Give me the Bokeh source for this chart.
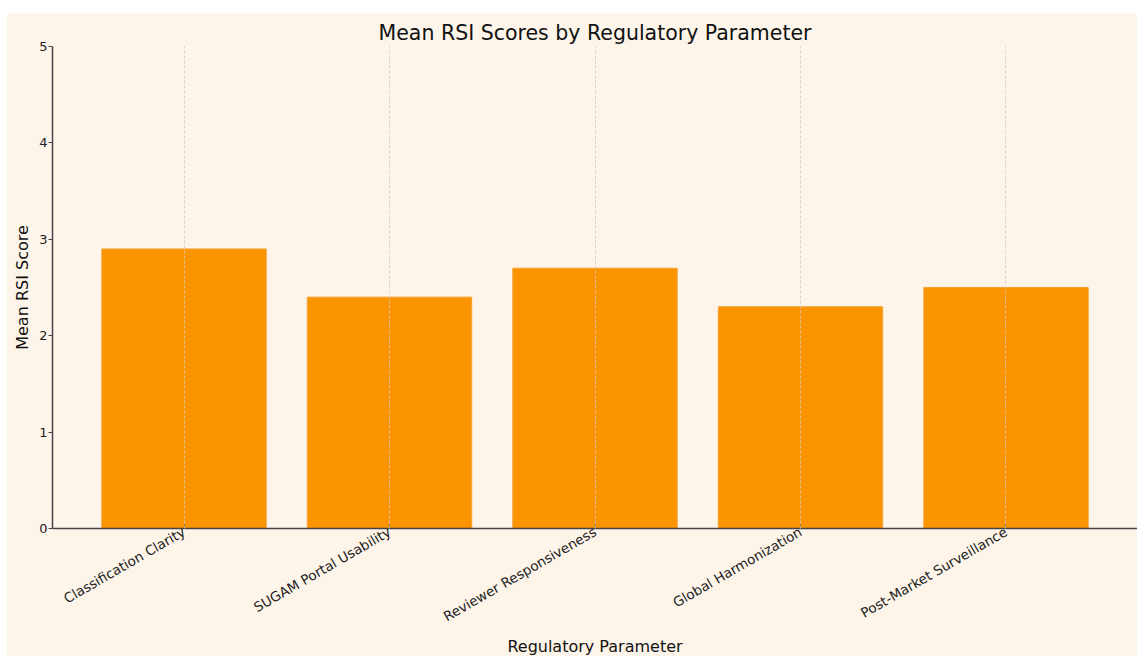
from math import pi
from bokeh.plotting import figure
from bokeh.models import Range1d, Spacer, ColumnDataSource, FixedTicker, Title
from bokeh.layouts import column, row
from bokeh.embed import file_html
from bokeh.resources import INLINE

categories = ["Classification Clarity", "SUGAM Portal Usability", "Reviewer Responsiveness",
              "Global Harmonization", "Post-Market Surveillance"]
scores = [2.9, 2.4, 2.7, 2.3, 2.5]
y_ticks = [0, 1, 2, 3, 4, 5]
x_title = "Regulatory Parameter"
y_title = "Mean RSI Score"

BG = "#FEF5EA"
FONT = "DejaVu Sans"

positions = list(range(len(categories)))
src = ColumnDataSource(dict(pos=positions, cat=categories, score=scores))

p = figure(width=1131, height=644, output_backend="svg", toolbar_location=None,
           x_range=Range1d(-0.64, len(categories) - 1 + 0.64),
           y_range=Range1d(0, 5),
           title="Mean RSI Scores by Regulatory Parameter",
           y_axis_label=y_title,
           min_border_left=46, min_border_right=0, min_border_top=34, min_border_bottom=128)

p.vbar(x="pos", top="score", width=0.8, source=src, fill_color="#FA9400",
       line_color="#F7A030", line_width=1)

p.background_fill_color = BG
p.border_fill_color = BG
p.outline_line_color = None

p.title.align = "center"
p.title.text_font = FONT
p.title.text_font_size = "20.5px"
p.title.text_font_style = "normal"
p.title.text_color = "#111111"
p.title.standoff = 3

p.ygrid.grid_line_color = None
p.xgrid.grid_line_color = "#D9C6BE"
p.xgrid.grid_line_dash = "3 2"
p.xgrid.grid_line_width = 1
p.xgrid.level = "overlay"
p.xgrid.grid_line_alpha = 0.8

for ax in (p.xaxis[0], p.yaxis[0]):
    ax.axis_line_color = "#444444"
    ax.axis_line_width = 1.5
    ax.major_tick_line_color = "#444444"
    ax.minor_tick_line_color = None
    ax.major_label_text_font = FONT
    ax.major_label_text_font_size = "13px"
    ax.major_label_text_color = "#222222"
    ax.axis_label_text_font = FONT
    ax.axis_label_text_font_size = "16px"
    ax.axis_label_text_font_style = "normal"
    ax.axis_label_text_color = "#111111"

p.xaxis.ticker = FixedTicker(ticks=positions)
p.xaxis.major_label_overrides = {i: c for i, c in zip(positions, categories)}
p.xaxis.major_label_text_font_size = "13.5px"
p.xaxis.major_tick_in = 4
p.xaxis.major_tick_out = 0
p.xaxis.major_label_orientation = pi / 6
p.xaxis.major_label_standoff = 2

p.yaxis.ticker = FixedTicker(ticks=y_ticks)
p.yaxis.major_tick_out = 4
p.yaxis.major_tick_in = 0
p.yaxis.major_label_standoff = 1
p.yaxis.axis_label_standoff = 4

# x-axis title below the rotated tick labels, centred on the frame
p.add_layout(Title(text=x_title, align="center", text_font=FONT, text_font_size="16px",
                   text_font_style="normal", text_color="#111111", standoff=0), "below")

layout = column(Spacer(height=12), row(Spacer(width=6), p, spacing=0), spacing=0)

open("out.html", "w").write(file_html(layout, INLINE))
